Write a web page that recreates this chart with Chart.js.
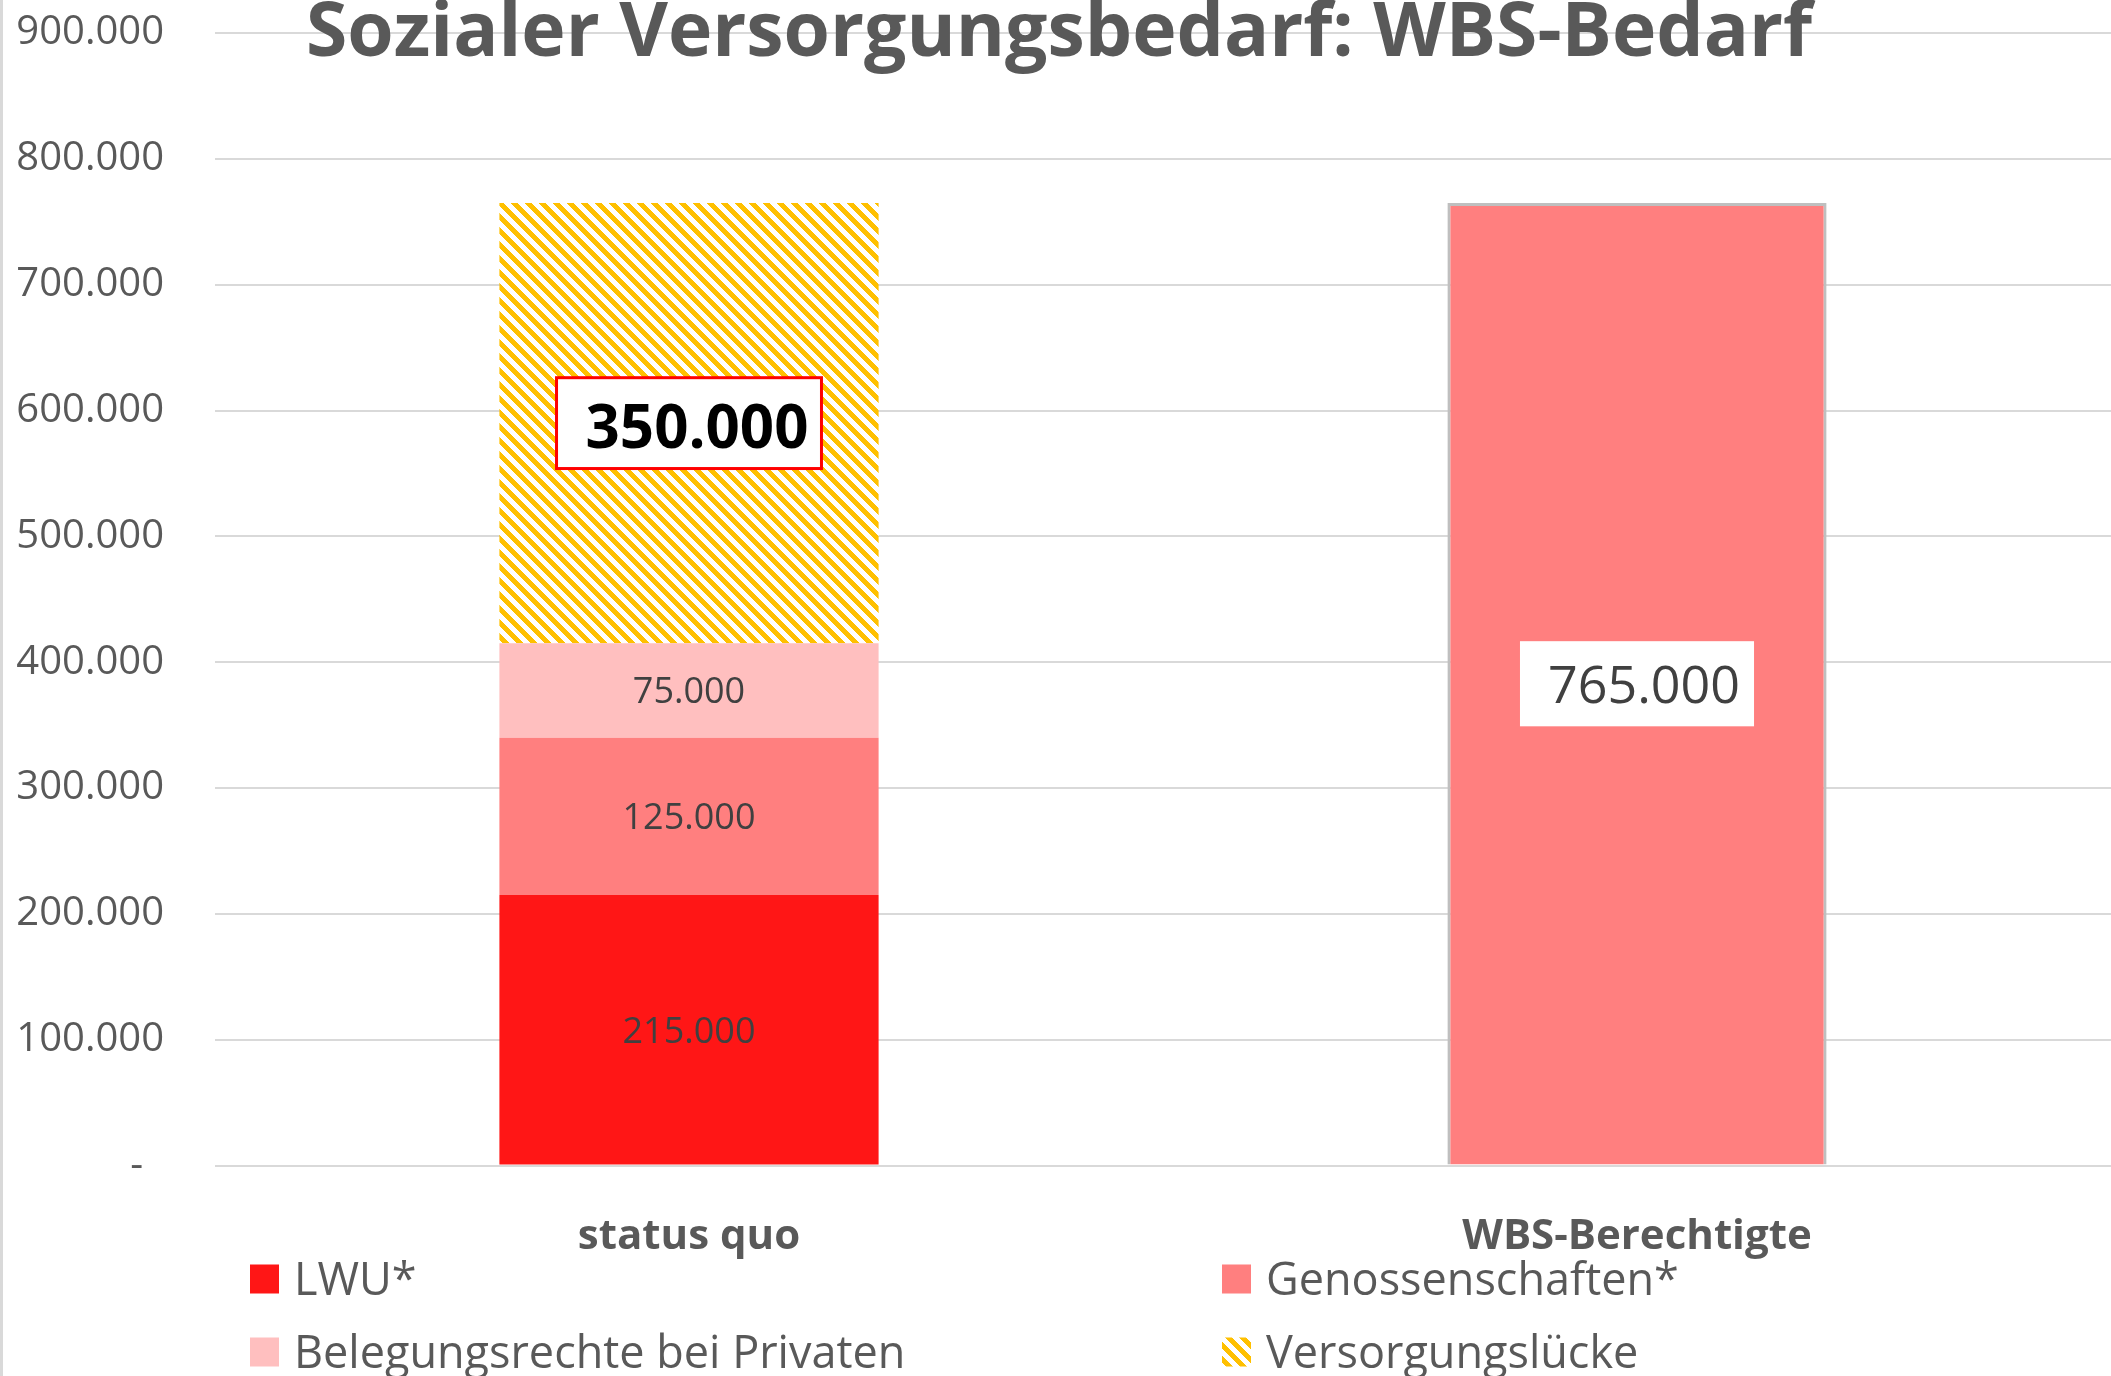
<!DOCTYPE html>
<html>
<head>
<meta charset="utf-8">
<script src="https://cdn.jsdelivr.net/npm/chart.js@4.4.1/dist/chart.umd.min.js"></script>
<style>
  html, body { margin: 0; padding: 0; background: #fff; }
  canvas { display: block; }
</style>
</head>
<body>
<canvas id="wbsChart" width="2111" height="1376"></canvas>
<script>
// --------------------
// DATA
// --------------------
const categories = ["status quo", "WBS-Berechtigte"];
const lwu = [215000, null];
const genossenschaften = [125000, null];
const belegungsrechte = [75000, null];
const versorgungsluecke = [350000, null];
const wbsBerechtigte = [null, 765000];
const yTicks = [0, 100000, 200000, 300000, 400000, 500000, 600000, 700000, 800000, 900000];

const titleText = "Sozialer Versorgungsbedarf: WBS-Bedarf";
const FONT = "'Open Sans', 'Noto Sans', sans-serif";
const GREY = "#595959";

function fmt(v) {
  return String(v).replace(/\B(?=(\d{3})+(?!\d))/g, ".");
}

// hatch pattern (wide downward diagonal, yellow on white)
function makeHatch() {
  const size = 14;
  const c = document.createElement("canvas");
  c.width = size;
  c.height = size;
  const g = c.getContext("2d");
  g.fillStyle = "#ffffff";
  g.fillRect(0, 0, size, size);
  g.fillStyle = "#FFC000";
  for (let y = 0; y < size; y++) {
    for (let x = 0; x < size; x++) {
      if (((x - y + size) % size) < 7) g.fillRect(x, y, 1, 1);
    }
  }
  return g.createPattern(c, "repeat");
}
const hatch = makeHatch();

const smallLabel = { size: 36, weight: "normal", color: "#404040" };

// --------------------
// PLUGINS
// --------------------
const backgroundPlugin = {
  id: "background",
  beforeDraw(chart) {
    const ctx = chart.ctx;
    ctx.save();
    ctx.fillStyle = "#ffffff";
    ctx.fillRect(0, 0, chart.width, chart.height);
    ctx.fillStyle = "#d9d9d9";
    ctx.fillRect(0, 0, 3, chart.height);
    ctx.restore();
  }
};

const valueLabelPlugin = {
  id: "valueLabels",
  afterDatasetsDraw(chart) {
    const ctx = chart.ctx;
    chart.data.datasets.forEach((ds, di) => {
      const meta = chart.getDatasetMeta(di);
      const st = ds.valueLabel;
      if (!st) return;
      meta.data.forEach((bar, i) => {
        const v = ds.data[i];
        if (v === null || v === undefined) return;
        const cx = bar.x;
        const cy = (bar.y + bar.base) / 2;
        const text = fmt(v);
        ctx.save();
        ctx.font = `${st.weight} ${st.size}px ${FONT}`;
        const w = ctx.measureText(text).width;
        const cap = st.size * 0.714;
        if (st.box) {
          const b = st.box;
          const bw = b.padL + w + b.padR;
          const bh = b.padT + cap + b.padB;
          const left = cx - bw / 2;
          const top = cy - bh / 2;
          ctx.fillStyle = "#ffffff";
          ctx.fillRect(left, top, bw, bh);
          if (b.border) {
            ctx.strokeStyle = b.border;
            ctx.lineWidth = 3;
            ctx.strokeRect(left, top, bw, bh);
          }
          ctx.fillStyle = st.color;
          ctx.textAlign = "left";
          ctx.textBaseline = "alphabetic";
          ctx.fillText(text, left + b.padL, top + b.padT + cap);
        } else {
          ctx.fillStyle = st.color;
          ctx.textAlign = "center";
          ctx.textBaseline = "alphabetic";
          ctx.fillText(text, cx, cy + cap / 2);
        }
        ctx.restore();
      });
    });
  }
};

const titlePlugin = {
  id: "overlayTitle",
  afterDraw(chart) {
    const ctx = chart.ctx;
    ctx.save();
    ctx.font = `bold 75px ${FONT}`;
    ctx.fillStyle = GREY;
    ctx.textAlign = "center";
    ctx.textBaseline = "alphabetic";
    ctx.fillText(titleText, 1059, 56);
    ctx.restore();
  }
};

const gridLegendPlugin = {
  id: "gridLegend",
  afterDraw(chart) {
    const ctx = chart.ctx;
    const cols = [250, 1222];
    const rows = [1279, 1352];
    const items = chart.data.datasets.filter(d => !d.hideInLegend);
    ctx.save();
    ctx.font = `normal 45px ${FONT}`;
    ctx.textAlign = "left";
    ctx.textBaseline = "middle";
    items.forEach((ds, i) => {
      const x = cols[i % 2];
      const y = rows[Math.floor(i / 2)];
      ctx.fillStyle = ds.backgroundColor;
      ctx.fillRect(x, y - 14.5, 29, 29);
      ctx.fillStyle = GREY;
      ctx.fillText(ds.label, x + 44, y + 3);
    });
    ctx.restore();
  }
};

// --------------------
// CHART
// --------------------
const ctx = document.getElementById("wbsChart").getContext("2d");

new Chart(ctx, {
  type: "bar",
  data: {
    labels: categories,
    datasets: [
      { label: "LWU*", data: lwu, backgroundColor: "#FF1616", valueLabel: smallLabel },
      { label: "Genossenschaften*", data: genossenschaften, backgroundColor: "#FF7F7F", valueLabel: smallLabel },
      { label: "Belegungsrechte bei Privaten", data: belegungsrechte, backgroundColor: "#FFBFBF", valueLabel: smallLabel },
      {
        label: "Versorgungslücke", data: versorgungsluecke, backgroundColor: hatch,
        valueLabel: { size: 60, weight: "bold", color: "#000000",
          box: { padL: 29, padR: 13, padT: 27, padB: 21, border: "#FF0000" } }
      },
      {
        label: "WBS-Berechtigte", data: wbsBerechtigte, backgroundColor: "#FF7F7F",
        borderColor: "#BFBFBF", borderWidth: 3, hideInLegend: true,
        valueLabel: { size: 52, weight: "normal", color: "#404040",
          box: { padL: 28, padR: 14, padT: 25, padB: 23 } }
      }
    ]
  },
  options: {
    responsive: false,
    animation: false,
    devicePixelRatio: 1,
    layout: { padding: { top: 33, left: 17, right: 0, bottom: 76 } },
    datasets: { bar: { barPercentage: 0.4, categoryPercentage: 1.0 } },
    plugins: {
      legend: { display: false },
      title: { display: false },
      tooltip: { enabled: false }
    },
    scales: {
      x: {
        stacked: true,
        grid: { display: false },
        border: { display: false },
        ticks: {
          color: GREY,
          padding: 38,
          font: { family: FONT, size: 42, weight: "bold" }
        }
      },
      y: {
        stacked: true,
        min: 0,
        max: 900000,
        afterBuildTicks: (s) => { s.ticks = yTicks.map(v => ({ value: v })); },
        afterFit: (s) => { s.width = 198; s.paddingTop = 0; s.paddingBottom = 0; },
        grid: { color: "#d9d9d9", lineWidth: 2, drawTicks: false },
        border: { display: false },
        ticks: {
          color: GREY,
          padding: 51,
          font: { family: FONT, size: 40 },
          callback: (v) => v === 0 ? "-  " : fmt(v)
        }
      }
    }
  },
  plugins: [backgroundPlugin, valueLabelPlugin, titlePlugin, gridLegendPlugin]
});
</script>
</body>
</html>
